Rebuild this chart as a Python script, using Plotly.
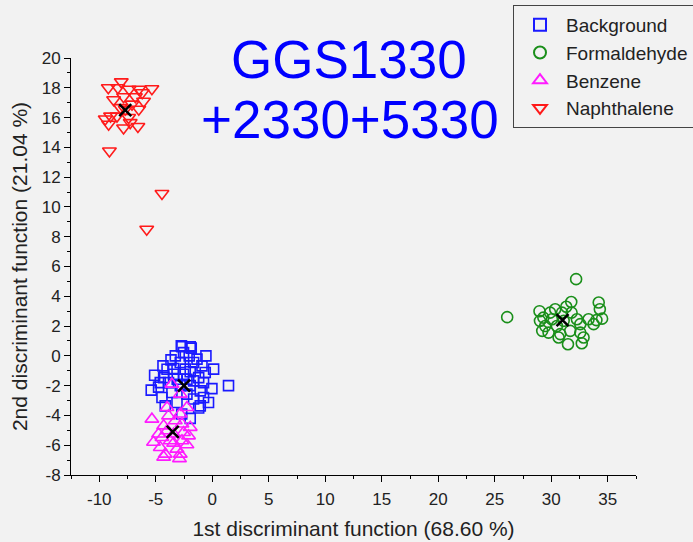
import plotly.graph_objects as go

bg_x = [-2.68, -1.86, -2.54, -2.04, -0.56, -3.65, -2.83, -1.65, -0.91, -4.36, -3.42, -2.39, 0.12,
        -5.1, -4.3, -3.42, -1.95, -1.2, -0.62, -4.6, -1.65, -0.77, -5.4, -4.45, -3.57, -0.03, 1.44,
        -4.0, -3.1, -2.24, -1.65, -1.06, -0.33, -4.16, -3.12, -1.06, -2.83, -3.27, -1.35, -4.75,
        -2.24, -3.87, -0.77, -2.54, -1.95, -1.95, -2.7, -1.2, -2.74, -1.95]
bg_y = [0.62, 0.52, 0.22, 0.0, 0.0, -0.27, -0.45, -0.45, -0.67, -0.67, -0.85, -0.89, -0.89,
        -1.3, -1.46, -1.23, -1.07, -1.46, -1.12, -1.8, -1.68, -1.8, -2.3, -2.8, -2.46, -2.2, -2.0,
        -0.9, -1.57, -2.57, -2.9, -3.36, -3.13, -3.36, -3.13, -2.35, -2.0, 0.0, -0.22, -2.1,
        -1.57, -1.8, -2.8, -1.23, -2.0, -4.2, -3.9, -3.5, 0.67, 0.6]

fo_x = [32.2, 26.1, 28.96, 30.35, 31.33, 31.77, 34.2, 34.3, 29.3, 30.06, 29.0, 32.27, 33.3, 33.75,
        34.5, 29.47, 30.5, 32.57, 29.76, 30.8, 31.68, 32.57, 32.86, 31.48, 32.7, 30.65, 30.95,
        29.9, 31.1, 31.8, 34.0, 29.2]
fo_y = [5.15, 2.6, 3.0, 3.13, 3.3, 3.62, 3.58, 3.13, 2.57, 2.46, 2.35, 2.46, 2.46, 2.13,
        2.5, 2.0, 2.0, 2.13, 1.56, 1.46, 1.68, 1.56, 1.23, 0.78, 0.85, 1.23, 2.9,
        2.9, 2.35, 2.9, 2.4, 1.68]

bz_x = [-3.57, -2.83, -2.24, -4.0, -5.34, -3.87, -2.83, -4.3, -1.95, -2.68, -4.75, -2.1, -5.2,
        -3.72, -2.68, -4.6, -3.12, -4.16, -2.83, -3.42, -4.45, -2.24, -3.42, -4.0, -2.54, -3.27,
        -2.9, -4.3]
bz_y = [-1.9, -2.57, -3.47, -3.47, -4.25, -4.03, -3.9, -4.7, -4.8, -4.58, -5.25, -5.37, -5.8,
        -5.7, -5.7, -6.15, -6.26, -6.6, -6.6, -5.86, -5.48, -5.97, -5.25, -5.03, -5.15, -4.36,
        -6.9, -6.8]

np_x = [-8.05, -9.2, -8.35, -7.35, -6.5, -6.2, -5.34, -8.73, -7.85, -6.8, -6.08, -8.14, -7.1,
        -6.5, -9.47, -9.0, -8.43, -7.4, -9.17, -7.85, -7.26, -6.58, -7.7, -9.1, -4.45, -5.8]
np_y = [18.4, 18.0, 18.0, 17.9, 17.9, 17.67, 17.94, 17.2, 17.4, 17.4, 17.1, 16.67, 16.9,
        16.56, 15.9, 16.1, 16.1, 16.0, 15.55, 15.3, 15.66, 15.4, 16.56, 13.76, 10.9, 8.5]

cent_x = [-2.5, 31.0, -3.5, -7.7]
cent_y = [-2.0, 2.4, -5.1, 16.5]

names = ["Background", "Formaldehyde", "Benzene", "Naphthalene"]
x_ticks = [-10, -5, 0, 5, 10, 15, 20, 25, 30, 35]
y_ticks = [-8, -6, -4, -2, 0, 2, 4, 6, 8, 10, 12, 14, 16, 18, 20]

FONT = "Arial, Liberation Sans"

fig = go.Figure()
series = [
    (bg_x, bg_y, names[0], "square-open", "#1a1aff", 10),
    (fo_x, fo_y, names[1], "circle-open", "#1a8f1a", 11),
    (bz_x, bz_y, names[2], "triangle-up-open", "#ff1aff", 12),
    (np_x, np_y, names[3], "triangle-down-open", "#ff1a1a", 12),
]
for xs, ys, nm, sym, col, sz in series:
    fig.add_trace(go.Scatter(
        x=xs, y=ys, mode="markers", name=nm,
        marker=dict(symbol=sym, size=sz, color=col, line=dict(width=1.6, color=col)),
    ))
fig.add_trace(go.Scatter(
    x=cent_x, y=cent_y, mode="markers", showlegend=False,
    marker=dict(symbol="x-thin-open", size=12, color="black", line=dict(width=2.5, color="black")),
))

fig.add_annotation(text="GGS1330", xref="paper", yref="paper", x=(349 - 71) / 565, y=(475 - 60) / 417,
                   xanchor="center", yanchor="middle",
                   showarrow=False, font=dict(family=FONT, size=53, color="#0000ff"))
fig.add_annotation(text="+2330+5330", xref="paper", yref="paper", x=(350 - 71) / 565, y=(475 - 120) / 417,
                   xanchor="center", yanchor="middle",
                   showarrow=False, font=dict(family=FONT, size=53, color="#0000ff"))

axis_common = dict(
    showgrid=False, zeroline=False, showline=True, linecolor="black", linewidth=1,
    ticks="outside", ticklen=6, tickcolor="black", mirror=False,
    tickfont=dict(family=FONT, size=17, color="#222"),
)
fig.update_xaxes(
    range=[-12.5, 37.5], tickvals=x_ticks, ticktext=[str(v) for v in x_ticks],
    minor=dict(ticks="outside", dtick=2.5, tick0=0, ticklen=3, tickcolor="black"),
    ticklabelstandoff=3,
    title=dict(text="1st discriminant function (68.60 %)", standoff=12,
               font=dict(family=FONT, size=21, color="#222")),
    **axis_common,
)
fig.update_yaxes(
    range=[-8, 20], tickvals=y_ticks, ticktext=[str(v) for v in y_ticks],
    minor=dict(ticks="outside", dtick=1, tick0=0, ticklen=3, tickcolor="black"),
    title=dict(text="2nd discriminant function (21.04 %)", standoff=8,
               font=dict(family=FONT, size=21, color="#222")),
    **axis_common,
)

fig.update_layout(
    width=693, height=542,
    margin=dict(l=71, r=57, t=58, b=67, autoexpand=False),
    paper_bgcolor="#f2f2f2", plot_bgcolor="#f2f2f2",
    legend=dict(
        x=(513 - 71) / 565, y=(475 - 5) / 417, xanchor="left", yanchor="top",
        bordercolor="#444", borderwidth=1, bgcolor="#f2f2f2",
        font=dict(family=FONT, size=19, color="#222"),
        itemsizing="constant", tracegroupgap=0, itemwidth=42,
    ),
)

fig.write_html("out.html")
